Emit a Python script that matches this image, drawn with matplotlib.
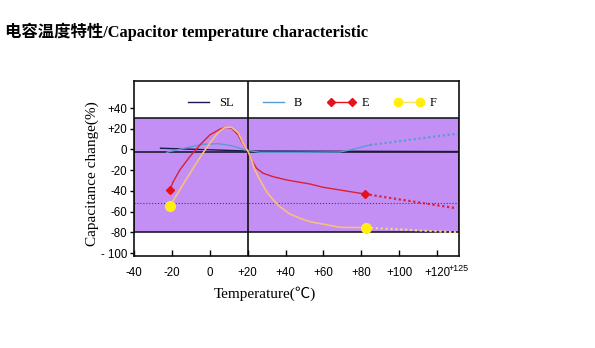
import numpy as np
import matplotlib.pyplot as plt

plt.rcParams['font.family'] = ['Liberation Serif', 'Noto Sans CJK SC', 'DejaVu Sans']

# Temperature (C) / capacitance change (%)
sl_t = [-26, 20, 131]
sl_c = [1.2, -1.5, -2.0]

b_t = [-22.8, -12.3, -3.5, 4.4, 11.5, 18.5, 26.5, 47.6, 68.7, 74.0, 84.6]
b_c = [-2.7, 1.7, 5.0, 5.6, 3.7, -0.5, -2.7, -2.7, -2.4, -0.5, 4.3]
b_ext_t = [84.6, 132]
b_ext_c = [4.3, 15.6]

e_t = [-21.1, -19.3, -15.8, -10.5, -5.2, 0.0, 5.3, 8.0, 11.5, 15.0, 16.8,
       20.3, 22.1, 24.7, 28.2, 33.5, 40.6, 47.6, 52.9, 59.9, 81.9]
e_c = [-39.1, -31.1, -19.8, -6.9, 4.3, 14.0, 19.5, 21.4, 20.5, 14.0, 7.5,
       -2.1, -10.1, -18.1, -23.0, -26.3, -29.4, -31.7, -33.3, -36.5, -43.0]
e_ext_t = [81.9, 130.4]
e_ext_c = [-43.0, -56.8]

f_t = [-21.1, -17.5, -13.2, -8.8, -4.3, 0.0, 4.4, 8.0, 11.5, 15.0, 17.6,
       20.3, 22.1, 23.8, 26.5, 30.0, 33.5, 37.0, 42.3, 47.6, 52.9, 68.7, 82.5]
f_c = [-55.0, -43.9, -31.1, -18.1, -5.3, 6.0, 16.2, 21.4, 21.4, 16.2, 6.0,
       -2.1, -10.1, -19.8, -29.4, -40.7, -48.7, -55.2, -62.3, -66.4, -69.7,
       -75.1, -75.5]
f_ext_t = [82.5, 131]
f_ext_c = [-75.5, -80.0]

band_top, band_bottom = 30, -80
ref_line = -52
zero_line = -2.1
split_t = 20

x_ticks = [-40, -20, 0, 20, 40, 60, 80, 100, 120]
x_labels = ['-40', '-20', '0', '+20', '+40', '+60', '+80', '+100', '+120']
y_ticks = [40, 20, 0, -20, -40, -60, -80, -100]
y_labels = ['+40', '+20', '0', '-20', '-40', '-60', '-80', '- 100']

fig = plt.figure(figsize=(5.95, 3.48), dpi=100)
ax = fig.add_axes([0.2252, 0.2644, 0.5462, 0.5029])
ax.set_xlim(-40, 131.6)
ax.set_ylim(-102.8, 66.1)

ax.axhspan(band_bottom, band_top, facecolor='#c38ff5', edgecolor='#1a1a2a',
           lw=1.2, zorder=0)
ax.axhline(ref_line, color='#4a3070', ls=':', lw=0.8, zorder=1)
ax.axhline(zero_line, color='#111122', lw=1.1, zorder=1)
ax.axvline(split_t, color='#111111', lw=1.2, zorder=1)

ax.plot(sl_t, sl_c, color='#1a1a4e', lw=1.0, label='SL', zorder=2)
ax.plot(b_t, b_c, color='#5b9bd5', lw=1.0, label='B', zorder=2)
ax.plot(b_ext_t, b_ext_c, color='#5b9bd5', lw=1.6, ls=(0, (1, 1.2)), zorder=2)

ax.plot(e_t, e_c, color='#dc2030', lw=1.0, zorder=3)
ax.plot(e_ext_t, e_ext_c, color='#dc2030', lw=1.6, ls=(0, (1, 1.2)), zorder=3)
ax.plot([e_t[0], e_t[-1]], [e_c[0], e_c[-1]], ls='none', marker='D',
        ms=4.5, color='#e8101c', zorder=4)

ax.plot(f_t, f_c, color='#f7c07a', lw=1.2, zorder=3)
ax.plot(f_ext_t, f_ext_c, color='#f5d77a', lw=1.6, ls=(0, (1, 1.2)), zorder=3)
ax.plot([f_t[0], f_t[-1]], [f_c[0], f_c[-1]], ls='none', marker='o',
        ms=7, color='#ffee10', zorder=4)

# legend handles
ax.plot([], [], color='#e8101c', lw=1.0, marker='D', ms=4, label='E')
ax.plot([], [], color='#f5e070', lw=1.0, marker='o', ms=6,
        mfc='#ffee10', mec='#ffee10', label='F')
ax.legend(loc='upper left', bbox_to_anchor=(0.12, 0.97), ncol=4, frameon=False,
          fontsize=9, handlelength=2.3, handletextpad=0.5, columnspacing=2.0,
          numpoints=2)

for s in ax.spines.values():
    s.set_color('#111111')
    s.set_linewidth(1.2)

ax.set_xticks(x_ticks)
ax.set_xticklabels(x_labels, family='Liberation Sans', fontsize=8.3)
ax.tick_params(axis='x', direction='in', length=4, pad=8, width=1)
ax.set_yticks(y_ticks)
ax.set_yticklabels(y_labels, family='Liberation Sans', fontsize=8.3)
ax.tick_params(axis='y', direction='out', length=3, pad=2, width=1)
ax.text(1.0, -0.07, '+125', transform=ax.transAxes, fontsize=6.5,
        family='Liberation Sans', ha='center', va='center')

fig.text(0.155, 0.5, 'Capacitance change(%)', rotation=90, fontsize=11,
         ha='center', va='center')
fig.text(0.445, 0.155, 'Temperature(℃)', fontsize=11, ha='center', va='center')
fig.text(0.008, 0.908, '电容温度特性/Capacitor temperature characteristic',
         fontsize=11.8, fontweight='bold', ha='left', va='center')

fig.savefig('out.png', dpi=100)
